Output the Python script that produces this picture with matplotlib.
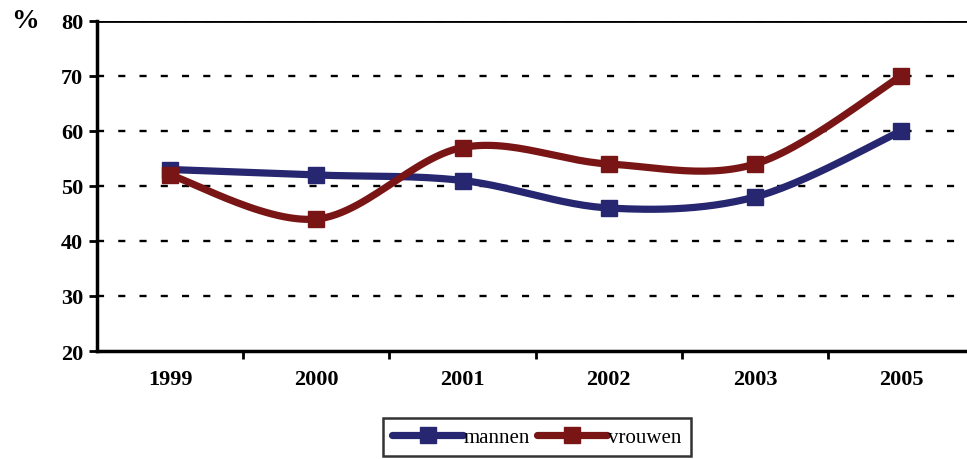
import numpy as np
import matplotlib
matplotlib.use("Agg")
import matplotlib.pyplot as plt
from matplotlib.lines import Line2D

years = ["1999", "2000", "2001", "2002", "2003", "2005"]
mannen = [53, 52, 51, 46, 48, 60]
vrouwen = [52, 44, 57, 54, 54, 70]
yticks = [20, 30, 40, 50, 60, 70, 80]

navy = "#262671"
red = "#7a1515"

def smooth(x, y, n=30):
    x = np.asarray(x, float); y = np.asarray(y, float)
    px = np.concatenate([[x[0]], x, [x[-1]]])
    py = np.concatenate([[y[0]], y, [y[-1]]])
    xs, ys = [], []
    for i in range(1, len(px) - 2):
        p0 = np.array([px[i], py[i]]); p3 = np.array([px[i+1], py[i+1]])
        c1 = p0 + (np.array([px[i+1], py[i+1]]) - np.array([px[i-1], py[i-1]])) / 6
        c2 = p3 - (np.array([px[i+2], py[i+2]]) - np.array([px[i], py[i]])) / 6
        t = np.linspace(0, 1, n)[:, None]
        b = (1-t)**3*p0 + 3*(1-t)**2*t*c1 + 3*(1-t)*t**2*c2 + t**3*p3
        xs.extend(b[:, 0]); ys.extend(b[:, 1])
    return np.array(xs), np.array(ys)

plt.rcParams['font.family'] = ['Liberation Serif', 'DejaVu Serif']

fig = plt.figure(figsize=(9.67, 4.6), dpi=100)
ax = fig.add_axes([97/967, 1-352/460, 1-97/967, (352-22)/460])

xpos = np.arange(len(years))
for vals, col in [(mannen, navy), (vrouwen, red)]:
    sx, sy = smooth(xpos, vals)
    ax.plot(sx, sy, color=col, lw=5.2, solid_capstyle='round', zorder=3)
    ax.plot(xpos, vals, ls='none', marker='s', ms=11.5, color=col, zorder=4)

ax.set_ylim(20, 80)
ax.set_xlim(-0.5, 5.45)
ax.set_yticks(yticks)
ax.set_yticklabels([str(v) for v in yticks], fontsize=16, fontweight='bold')
ax.set_xticks(xpos)
ax.set_xticklabels(years, fontsize=16, fontweight='bold')
ax.tick_params(axis='x', which='major', length=0, pad=13)
ax.set_xticks(np.arange(0.5, 5.5, 1), minor=True)
ax.tick_params(axis='x', which='minor', length=6, width=2, direction='out')
ax.tick_params(axis='y', length=6, width=2, direction='out', pad=4)

for v in yticks[1:]:
    ax.axhline(v, color='black', lw=1.7, ls=(0, (3, 6)), zorder=1)
ax.axhline(80, color='black', lw=2, zorder=1)

for s in ['right', 'top']:
    ax.spines[s].set_visible(False)
ax.spines['left'].set_linewidth(2.5)
ax.spines['bottom'].set_linewidth(2.5)

fig.text(11/967, 1-22/460, "%", fontsize=20, fontweight='bold', va='center', ha='left')

handles = [Line2D([], [], color=navy, lw=5.2, marker='s', ms=11.5, solid_capstyle='round'),
           Line2D([], [], color=red, lw=5.2, marker='s', ms=11.5, solid_capstyle='round')]
leg = fig.legend(handles, ["mannen", "vrouwen"], loc='center', bbox_to_anchor=(537/967, 1-438/460),
                 ncol=2, frameon=True, fancybox=False, edgecolor='black', fontsize=15,
                 handlelength=3.4, handletextpad=0.05, columnspacing=0.3, borderpad=0.45,
                 borderaxespad=0)
leg.get_frame().set_linewidth(1.8)

fig.savefig("out.png", dpi=100)
